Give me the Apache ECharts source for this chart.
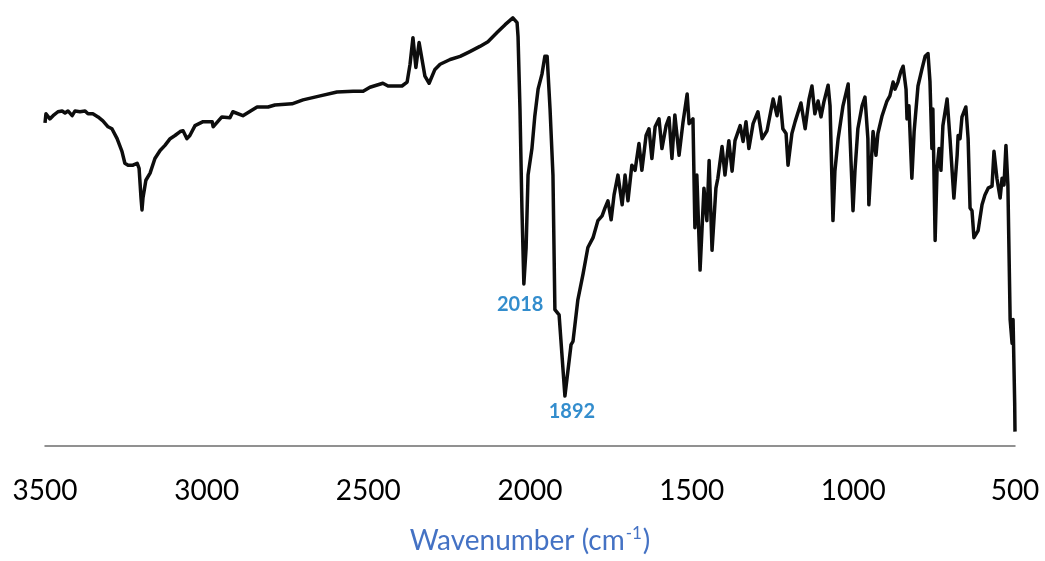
<!DOCTYPE html>
<html>
<head>
<meta charset="utf-8">
<script src="https://cdn.jsdelivr.net/npm/echarts@6/dist/echarts.min.js"></script>
<style>
  html, body { margin: 0; padding: 0; background: #ffffff; }
  #chart { width: 1045px; height: 561px; }
</style>
</head>
<body>
<div id="chart"></div>
<script>
// Wavenumber (cm-1) of each sampled point of the spectrum
const wavenumbers = [
  3500, 3497, 3485, 3475, 3460, 3447, 3438, 3429, 3416, 3407, 3392, 3376, 3367, 3352, 3336, 3321,
  3305, 3293, 3277, 3262, 3253, 3243, 3228, 3215, 3209, 3203, 3200, 3197, 3188, 3175, 3160, 3144,
  3129, 3113, 3098, 3082, 3073, 3061, 3052, 3036, 3011, 2983, 2980, 2953, 2928, 2919, 2888, 2844,
  2810, 2789, 2736, 2702, 2649, 2597, 2547, 2516, 2495, 2455, 2439, 2396, 2380, 2371, 2362, 2353,
  2343, 2337, 2325, 2312, 2294, 2278, 2247, 2216, 2186, 2155, 2130, 2102, 2077, 2053, 2040, 2037,
  2031, 2025, 2019, 2012, 2006, 1994, 1985, 1975, 1963, 1954, 1947, 1938, 1929, 1923, 1910, 1892,
  1873, 1867, 1852, 1836, 1821, 1805, 1790, 1777, 1768, 1759, 1749, 1740, 1728, 1715, 1706, 1697,
  1685, 1675, 1663, 1654, 1641, 1632, 1623, 1613, 1601, 1592, 1579, 1570, 1561, 1552, 1539, 1527,
  1514, 1508, 1496, 1490, 1484, 1474, 1462, 1453, 1446, 1437, 1425, 1419, 1406, 1397, 1385, 1375,
  1366, 1350, 1341, 1332, 1323, 1310, 1295, 1282, 1267, 1248, 1236, 1227, 1218, 1208, 1202, 1190,
  1180, 1162, 1149, 1137, 1128, 1119, 1109, 1100, 1091, 1078, 1072, 1063, 1057, 1047, 1032, 1016,
  1010, 1001, 995, 986, 973, 964, 955, 952, 942, 939, 930, 924, 911, 896, 887, 877,
  871, 862, 853, 846, 837, 834, 828, 819, 812, 800, 788, 778, 769, 763, 757, 754,
  747, 741, 735, 729, 723, 710, 701, 689, 679, 676, 670, 664, 661, 652, 645, 639,
  633, 627, 614, 602, 593, 583, 571, 565, 556, 546, 540, 534, 528, 522, 515, 509,
  506, 501, 500
];
// Transmittance (arbitrary %T scale) at each wavenumber above
const transmittance = [
  81.5, 83.8, 82.5, 83.3, 84.3, 84.5, 84.0, 84.5, 83.3, 84.5, 84.3, 84.5, 83.8, 83.8, 83.0, 82.0,
  80.5, 80.0, 77.5, 74.3, 71.3, 70.8, 70.8, 71.3, 70.0, 62.5, 59.5, 62.5, 67.0, 68.8, 72.5, 74.5,
  75.8, 77.5, 78.3, 79.3, 79.5, 77.5, 78.3, 80.8, 81.8, 81.8, 80.5, 83.0, 82.8, 84.3, 83.3, 85.5,
  85.5, 86.0, 86.3, 87.3, 88.3, 89.3, 89.5, 89.5, 90.5, 91.5, 90.8, 90.8, 91.8, 96.3, 103.0, 95.5,
  101.8, 101.3, 93.3, 91.5, 95.0, 96.3, 97.5, 98.3, 99.5, 100.8, 102.0, 104.3, 106.3, 108.0, 106.8, 103.3,
  85.0, 60.0, 40.8, 50.0, 68.3, 75.0, 83.3, 90.0, 93.8, 98.3, 98.3, 85.0, 68.3, 34.3, 33.0, 12.5,
  25.5, 26.3, 36.8, 43.3, 50.0, 52.5, 56.8, 58.0, 60.0, 61.8, 57.0, 63.3, 68.3, 60.8, 68.3, 61.8,
  70.8, 69.5, 76.3, 69.5, 78.3, 80.0, 72.5, 80.5, 82.5, 75.0, 80.8, 82.8, 72.5, 83.5, 73.3, 81.5,
  88.8, 81.3, 82.5, 55.0, 68.3, 44.3, 65.0, 56.8, 72.0, 49.3, 65.0, 67.5, 75.5, 68.3, 77.0, 69.3,
  77.0, 80.8, 76.8, 81.8, 75.0, 81.3, 84.3, 77.5, 79.5, 87.5, 83.3, 88.0, 80.0, 78.8, 70.8, 78.8,
  81.8, 86.5, 80.0, 87.5, 90.8, 83.8, 87.0, 83.0, 86.8, 91.0, 85.8, 56.8, 69.3, 77.5, 85.8, 91.3,
  77.5, 59.3, 69.3, 80.0, 85.8, 88.0, 77.5, 60.8, 75.0, 79.3, 73.3, 78.8, 83.3, 87.0, 88.3, 91.8,
  90.0, 91.8, 94.5, 95.8, 90.0, 82.5, 85.8, 67.5, 79.3, 90.8, 95.0, 98.3, 99.0, 92.0, 75.0, 85.0,
  51.8, 70.0, 75.0, 69.5, 80.8, 87.5, 77.5, 62.5, 73.3, 78.3, 77.5, 83.0, 83.3, 85.5, 77.5, 60.0,
  59.3, 52.5, 54.3, 60.8, 63.3, 65.0, 65.5, 74.3, 67.5, 62.5, 67.5, 65.8, 75.8, 65.8, 31.8, 25.8,
  31.8, 10.8, 3.5
];
// Annotated band positions
const peakWavenumbers = [2018, 1892];
const peakTransmittance = [40.8, 12.5];
const peakLabels = ['2018', '1892'];
// X-axis ticks
const xTicks = [3500, 3000, 2500, 2000, 1500, 1000, 500];
const xAxisTitle = 'Wavenumber (cm';
const xAxisTitleSup = '-1';

const spectrum = wavenumbers.map((w, i) => [w, transmittance[i]]);
const peaks = peakWavenumbers.map((w, i) => [w, peakTransmittance[i], peakLabels[i]]);
const peakOffsets = [[-4, 6], [7, 1]];

const chart = echarts.init(document.getElementById('chart'), null, { renderer: 'canvas' });
chart.setOption({
  animation: false,
  backgroundColor: '#ffffff',
  grid: { left: 45, right: 30, top: 10, bottom: 111, containLabel: false },
  xAxis: {
    type: 'value',
    inverse: true,
    min: xTicks[xTicks.length - 1],
    max: xTicks[0],
    interval: 500,
    name: '{t|' + xAxisTitle + '}{s|' + xAxisTitleSup + '}{t|)}',
    nameLocation: 'middle',
    nameGap: 78,
    nameTextStyle: {
      rich: {
        t: { fontFamily: 'Lato', fontSize: 28, color: '#4472C4', lineHeight: 34 },
        s: { fontFamily: 'Lato', fontSize: 17, color: '#4472C4', lineHeight: 34, padding: [0, 1, 14, 1] }
      }
    },
    axisLine: { show: true, onZero: false, lineStyle: { color: '#6e6e6e', width: 1.5 } },
    axisTick: { show: false },
    splitLine: { show: false },
    axisLabel: {
      show: true,
      margin: 31,
      fontFamily: 'Lato',
      fontSize: 28,
      color: '#000000',
      showMinLabel: true,
      showMaxLabel: true,
      hideOverlap: false,
      formatter: (v) => String(v)
    }
  },
  yAxis: {
    type: 'value',
    show: false,
    min: 0,
    max: 110
  },
  series: [
    {
      type: 'line',
      data: spectrum,
      showSymbol: false,
      symbol: 'none',
      smooth: false,
      lineStyle: { color: '#0d0d0d', width: 3.5, join: 'round' },
      z: 2
    },
    {
      type: 'scatter',
      data: peaks,
      symbolSize: 0,
      silent: true,
      z: 3,
      label: {
        show: true,
        position: 'bottom',
        formatter: (p) => p.data[2],
        fontFamily: 'Lato',
        fontWeight: 'bold',
        fontSize: 20,
        color: '#0070C0'
      },
      labelLayout: (params) => {
        const o = peakOffsets[params.dataIndex];
        return { dx: o[0], dy: o[1] };
      }
    }
  ]
});
</script>
</body>
</html>
